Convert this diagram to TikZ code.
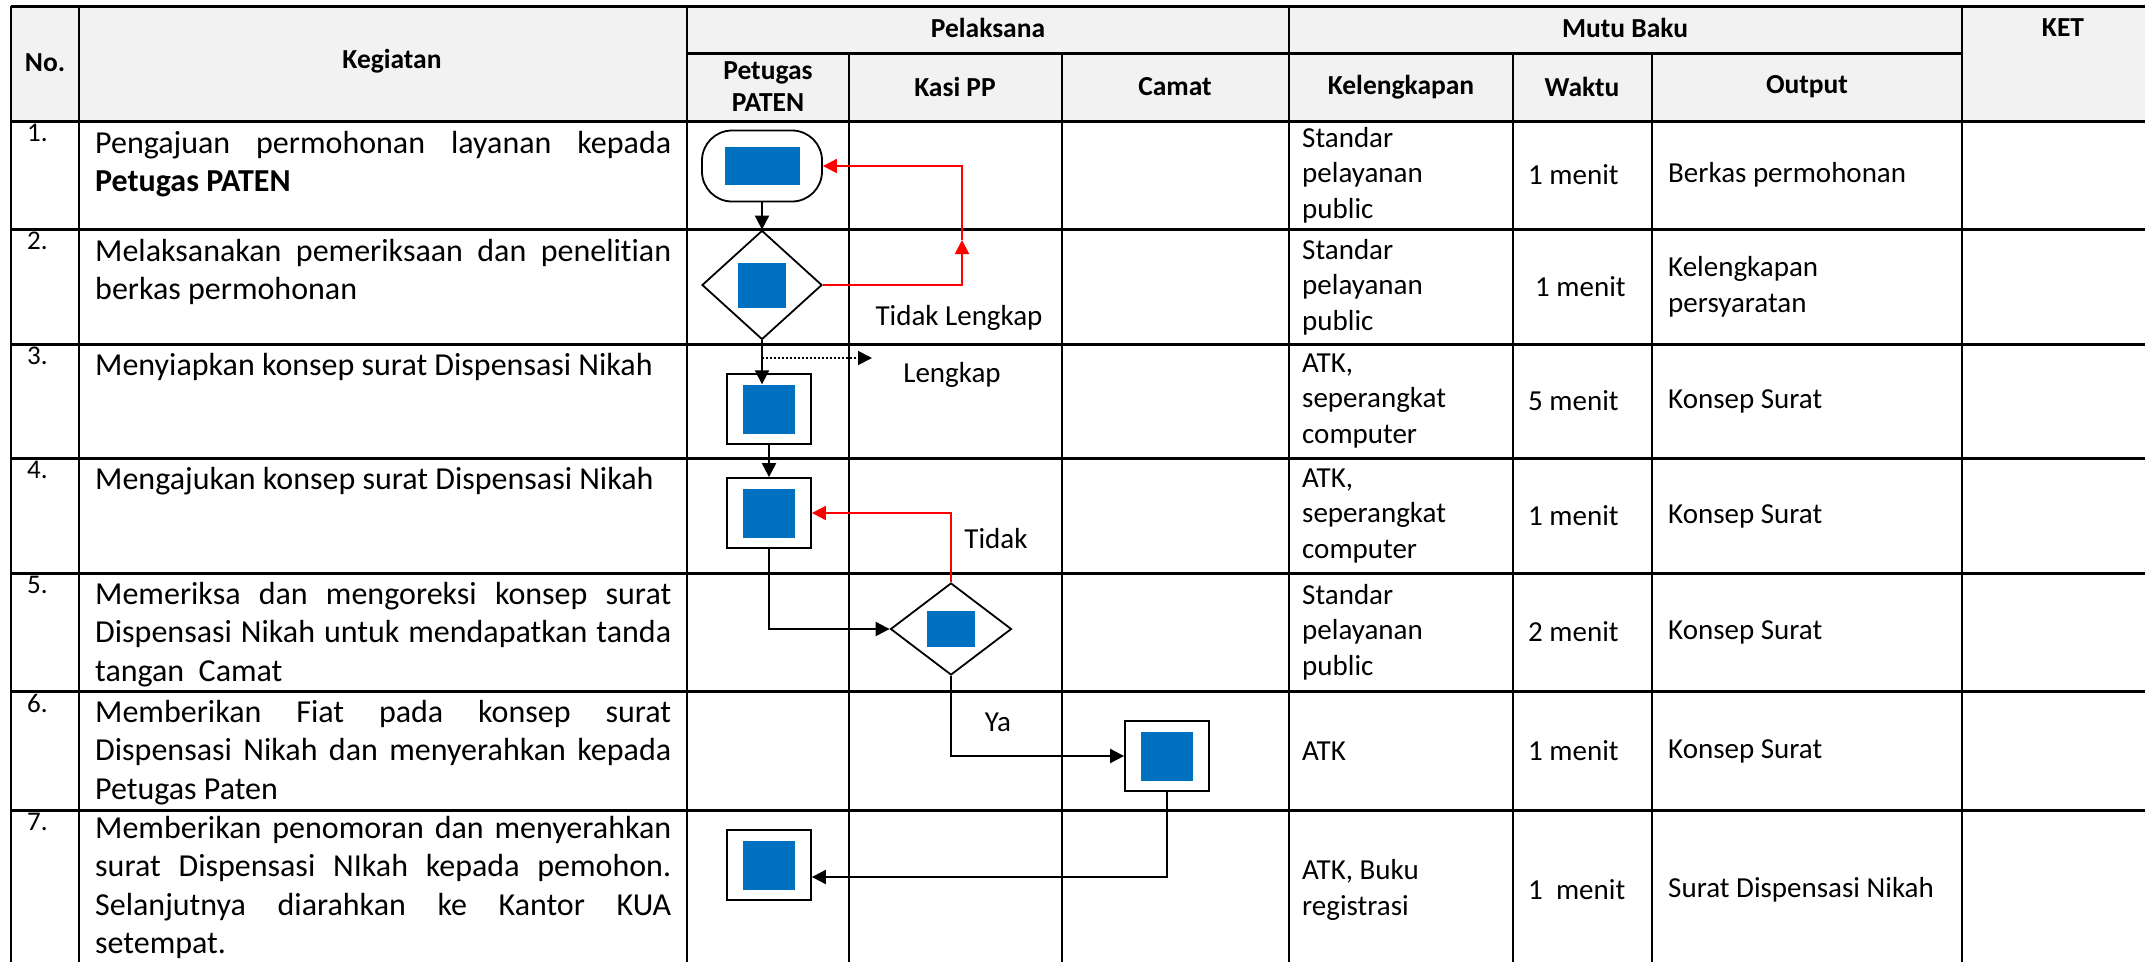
\documentclass[tikz,border=0pt]{standalone}
\usepackage{fontspec}
\setmainfont[Ligatures=NoCommon]{Carlito}
\usetikzlibrary{shapes.geometric,arrows.meta}
\definecolor{biru}{HTML}{0070C0}
\definecolor{abu}{HTML}{F2F2F2}
\definecolor{merah}{HTML}{FF0000}
\begin{document}
\begin{tikzpicture}[x=1pt,y=-1pt,
        hdr/.style={align=center,inner sep=0pt,font=\fontsize{27.5}{32}\selectfont\bfseries},
        nomor/.style={anchor=north west,inner sep=0pt,font=\fontsize{27}{30}\selectfont},
        keg/.style={anchor=north west,inner sep=0pt,text width=576pt,align=justify,font=\fontsize{32}{38.5}\selectfont},
        isi/.style={anchor=west,inner sep=0pt,align=left,font=\fontsize{29}{35.5}\selectfont},
        catatan/.style={inner sep=0pt,font=\fontsize{29}{35}\selectfont},
        mulai/.style={draw,line width=1.8pt,rounded corners=30pt,minimum width=120pt,minimum height=71pt,inner sep=0pt},
        keputusan/.style={draw,diamond,line width=1.8pt,inner sep=0pt},
        proses/.style={draw,line width=1.8pt,minimum width=84pt,minimum height=70pt,inner sep=0pt},
        kotak/.style={fill=biru,inner sep=0pt,minimum width=52pt,minimum height=49pt},
        alur/.style={line width=2pt,-{Triangle[length=14pt,width=14pt]}},
        balik/.style={alur,merah},
        garis/.style={line width=1.3pt},
        batas/.style={line width=3pt}]
        \useasboundingbox (0,0) rectangle (2145,962);
        \fill[abu] (11,6) rectangle (2145,121);
        \draw[garis] (11,6) -- (11,962);
        \draw[garis] (79,6) -- (79,962);
        \draw[garis] (687,6) -- (687,962);
        \draw[garis] (849,53) -- (849,962);
        \draw[garis] (1062,53) -- (1062,962);
        \draw[garis] (1289,6) -- (1289,962);
        \draw[garis] (1513,53) -- (1513,962);
        \draw[garis] (1652,53) -- (1652,962);
        \draw[garis] (1962,6) -- (1962,962);
        \draw[batas] (11,6) -- (2145,6);
        \draw[batas] (687,53) -- (1962,53);
        \draw[batas] (11,121) -- (2145,121);
        \draw[batas] (11,229) -- (2145,229);
        \draw[batas] (11,344) -- (2145,344);
        \draw[batas] (11,458) -- (2145,458);
        \draw[batas] (11,573) -- (2145,573);
        \draw[batas] (11,691) -- (2145,691);
        \draw[batas] (11,810) -- (2145,810);
        \node[hdr] (hno) at (45,63) {No.};
        \node[hdr] (hkeg) at (392,61) {Kegiatan};
        \node[hdr] (hpel) at (988,28) {Pelaksana};
        \node[hdr] (hmutu) at (1625,28) {Mutu Baku};
        \node[hdr] (hket) at (2063,28) {KET};
        \node[hdr] (hptg) at (768,87) {Petugas\\PATEN};
        \node[hdr] (hkasi) at (955,87) {Kasi PP};
        \node[hdr] (hcmt) at (1175,87) {Camat};
        \node[hdr] (hkel) at (1401,87) {Kelengkapan};
        \node[hdr] (hwkt) at (1582,87) {Waktu};
        \node[hdr] (hout) at (1807,87) {Output};
        \node[nomor] (n1) at (27,124) {1.};
        \node[nomor] (n2) at (27,232) {2.};
        \node[nomor] (n3) at (27,347) {3.};
        \node[nomor] (n4) at (27,461) {4.};
        \node[nomor] (n5) at (27,576) {5.};
        \node[nomor] (n6) at (27,694) {6.};
        \node[nomor] (n7) at (27,813) {7.};
        \node[keg] (k1) at (95,131) {Pengajuan permohonan layanan kepada\linebreak \textbf{Petugas PATEN}};
        \node[keg] (k2) at (95,239) {Melaksanakan pemeriksaan dan penelitian\linebreak berkas permohonan};
        \node[keg] (k3) at (95,353) {Menyiapkan konsep surat Dispensasi Nikah};
        \node[keg] (k4) at (95,467) {Mengajukan konsep surat Dispensasi Nikah};
        \node[keg] (k5) at (95,582) {Memeriksa dan mengoreksi konsep surat\linebreak Dispensasi Nikah untuk mendapatkan tanda\linebreak tangan\ \ Camat};
        \node[keg] (k6) at (95,700) {Memberikan Fiat pada konsep surat\linebreak Dispensasi Nikah dan menyerahkan kepada\linebreak Petugas Paten};
        \node[keg] (k7) at (95,816) {Memberikan penomoran dan menyerahkan\linebreak surat Dispensasi NIkah kepada pemohon.\linebreak Selanjutnya diarahkan ke Kantor KUA\linebreak setempat.};
        \node[isi] (l1) at (1302,175) {Standar\\pelayanan\\public};
        \node[isi] (l2) at (1302,287) {Standar\\pelayanan\\public};
        \node[isi] (l3) at (1302,401) {ATK,\\seperangkat\\computer};
        \node[isi] (l4) at (1302,516) {ATK,\\seperangkat\\computer};
        \node[isi] (l5) at (1302,632) {Standar\\pelayanan\\public};
        \node[isi] (l6) at (1302,751) {ATK};
        \node[isi] (l7) at (1302,890) {ATK, Buku\\registrasi};
        \node[isi] (w1) at (1528,175) {1 menit};
        \node[isi] (w2) at (1535,287) {1 menit};
        \node[isi] (w3) at (1528,401) {5 menit};
        \node[isi] (w4) at (1528,516) {1 menit};
        \node[isi] (w5) at (1528,632) {2 menit};
        \node[isi] (w6) at (1528,751) {1 menit};
        \node[isi] (w7) at (1528,890) {1\ \ menit};
        \node[isi] (o1) at (1668,175) {Berkas permohonan};
        \node[isi] (o2) at (1668,287) {Kelengkapan\\persyaratan};
        \node[isi] (o3) at (1668,401) {Konsep Surat};
        \node[isi] (o4) at (1668,516) {Konsep Surat};
        \node[isi] (o5) at (1668,632) {Konsep Surat};
        \node[isi] (o6) at (1668,751) {Konsep Surat};
        \node[isi] (o7) at (1668,890) {Surat Dispensasi Nikah};
        \node[mulai] (t1) at (762,166) {};
        \node[kotak,minimum width=75pt,minimum height=38pt] (b1) at (t1) {};
        \node[keputusan,minimum width=120pt,minimum height=109pt] (d2) at (762,285) {};
        \node[kotak,minimum width=48pt,minimum height=45pt] (b2) at (d2) {};
        \node[proses] (p3) at (769,409) {};
        \node[kotak] (b3) at (p3) {};
        \node[proses] (p4) at (769,513) {};
        \node[kotak] (b4) at (p4) {};
        \node[keputusan,minimum width=121pt,minimum height=92pt] (d5) at (951,629) {};
        \node[kotak,minimum width=48pt,minimum height=36pt] (b5) at (d5) {};
        \node[proses] (p6) at (1167,756) {};
        \node[kotak] (b6) at (p6) {};
        \node[proses] (p7) at (769,865) {};
        \node[kotak] (b7) at (p7) {};
        \coordinate (naik) at (962,240);
        \coordinate (lk) at (872,358);
        \draw[alur] (t1.south) -- (d2.north);
        \draw[balik] (d2.east) -| (naik);
        \draw[balik] (naik) |- (t1.east);
        \draw[alur] (d2.south) -- (d2.south |- b3.north);
        \draw[alur,dotted,line width=1.8pt] (d2.south |- lk) -- (lk);
        \draw[alur] (p3.south) -- (p4.north);
        \draw[alur] (p4.south) |- (d5.west);
        \draw[balik] (d5.north) |- (p4.east);
        \draw[alur] (d5.south) |- (p6.west);
        \draw[alur] (p6.south) |- ([yshift=-12pt]p7.east);
        \node[catatan] (tl) at (959,318) {Tidak Lengkap};
        \node[catatan] (lg) at (952,375) {Lengkap};
        \node[catatan] (td) at (996,539) {Tidak};
        \node[catatan] (ya) at (998,722) {Ya};
\end{tikzpicture}
\end{document}
